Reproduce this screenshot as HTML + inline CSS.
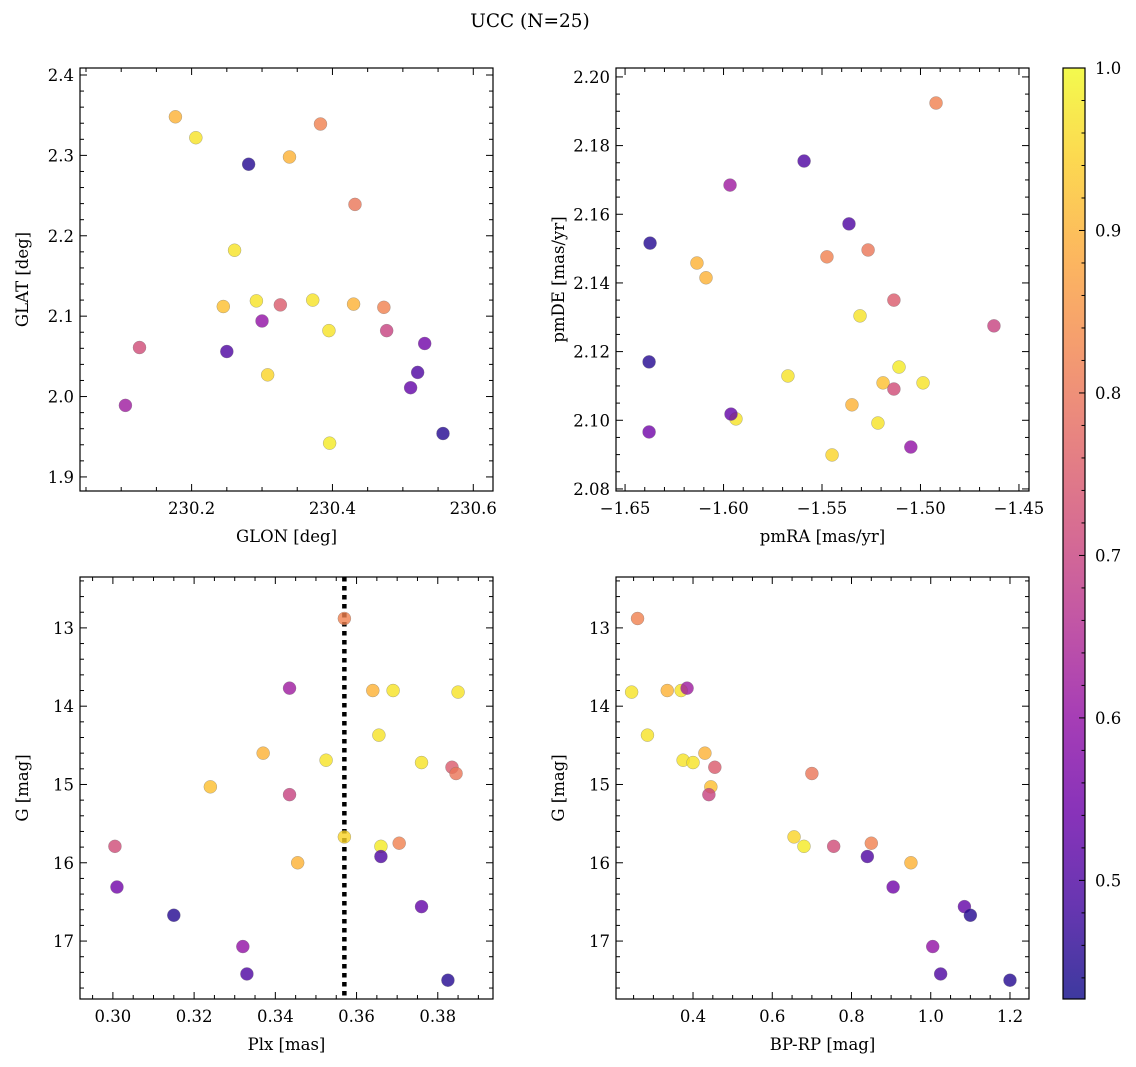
<!DOCTYPE html>
<html><head><meta charset="utf-8">
<style>
html,body{margin:0;padding:0;background:#fff;}
svg{display:block;font-family:"DejaVu Serif","Liberation Serif",serif;}
</style></head>
<body>
<svg id="fig" width="1136" height="1067" viewBox="0 0 1136 1067" xmlns="http://www.w3.org/2000/svg">
<text x="530" y="27" font-size="18.5" text-anchor="middle">UCC (N=25)</text>
</svg>
<script>
// Data (25 stars)
const prob = [0.82,0.97,0.90,0.97,0.62,0.97,0.97,0.90,0.97,0.75,0.92,0.70,0.80,0.95,0.98,0.72,0.82,0.50,0.90,0.55,0.53,0.45,0.60,0.50,0.45];
const bprp = [0.26,0.245,0.335,0.37,0.385,0.285,0.375,0.43,0.40,0.455,0.445,0.44,0.70,0.655,0.68,0.755,0.85,0.84,0.95,0.905,1.085,1.10,1.005,1.025,1.20];
const gmag = [12.88,13.82,13.80,13.80,13.77,14.37,14.69,14.60,14.72,14.78,15.03,15.13,14.86,15.67,15.79,15.79,15.75,15.92,16.00,16.31,16.56,16.67,17.07,17.42,17.50];
const plx = [0.357,0.385,0.364,0.369,0.3435,0.3655,0.3525,0.337,0.376,0.3835,0.324,0.3435,0.3845,0.357,0.366,0.3005,0.3705,0.366,0.3455,0.301,0.376,0.315,0.332,0.333,0.3825];
const glon = [230.383,230.206,230.177,230.261,230.106,230.292,230.372,230.339,230.395,230.326,230.245,230.477,230.432,230.308,230.396,230.126,230.473,230.250,230.430,230.531,230.511,230.281,230.300,230.521,230.557];
const glat = [2.339,2.322,2.348,2.182,1.989,2.119,2.120,2.298,2.082,2.114,2.112,2.082,2.239,2.027,1.942,2.061,2.111,2.056,2.115,2.066,2.011,2.289,2.094,2.030,1.954];
const pmra = [-1.4921,-1.5307,-1.6135,-1.5673,-1.5967,-1.4987,-1.5937,-1.6089,-1.5216,-1.5135,-1.5190,-1.4627,-1.5266,-1.5449,-1.5109,-1.5135,-1.5475,-1.5591,-1.5348,-1.6378,-1.5962,-1.6373,-1.5049,-1.5363,-1.6378];
const pmde = [2.1924,2.1304,2.1458,2.1129,2.1685,2.1109,2.1004,2.1415,2.0992,2.1350,2.1109,2.1275,2.1496,2.0899,2.1155,2.1091,2.1476,2.1755,2.1045,2.0966,2.1018,2.1516,2.0922,2.1572,2.1170];
const plxLine = 0.357;
const cbTicks = [0.5,0.6,0.7,0.8,0.9,1.0];
const cMin = 0.427, cMax = 1.0;

const NS = "http://www.w3.org/2000/svg";
const svg = document.getElementById('fig');
const FS = 16.5;
const plasma = ["#0d0887","#41049d","#6a00a8","#8f0da4","#b12a90","#cc4778","#e16462","#f2844b","#fca636","#fcce25","#f0f921"];
function hex(h){return [1,3,5].map(i=>parseInt(h.substr(i,2),16));}
function cmap(v){
  let t=(v-cMin)/(cMax-cMin); t=Math.max(0,Math.min(1,t));
  const f=t*10, i=Math.min(9,Math.floor(f)), r=f-i;
  const a=hex(plasma[i]), b=hex(plasma[i+1]);
  return "rgb("+a.map((c,k)=>Math.round(c+(b[k]-c)*r)).join(",")+")";
}
function mk(tag, attrs, parent){
  const e=document.createElementNS(NS,tag);
  for(const k in attrs) e.setAttribute(k,attrs[k]);
  (parent||svg).appendChild(e); return e;
}
function fmt(v,d){const s=v.toFixed(d); return s.replace('-','\u2212');}

function panel(name, box, xd, yd, xmaj, xmin, ymaj, ymin, xdec, ydec, xlab, ylab, xs, ys, invertY){
  const [L,T,R,B]=box;
  const g=mk('g',{});
  
  
  const X=v=>L+(v-xd[0])/(xd[1]-xd[0])*(R-L);
  const Y=invertY? (v=>T+(v-yd[0])/(yd[1]-yd[0])*(B-T)) : (v=>B-(v-yd[0])/(yd[1]-yd[0])*(B-T));
  const eps=1e-9;
  const tg=mk('g',{stroke:'#000','stroke-width':1},g);
  
  
  for(let v=Math.ceil(xd[0]/xmin-eps)*xmin; v<=xd[1]+eps; v+=xmin){
    const isMaj=Math.abs(v/xmaj-Math.round(v/xmaj))<1e-6; const len=isMaj?7:4; const x=X(v);
    mk('line',{x1:x,x2:x,y1:B,y2:B-len},tg); mk('line',{x1:x,x2:x,y1:T,y2:T+len},tg);
    if(isMaj){const t=mk('text',{x:x,y:B+23,'font-size':FS,'text-anchor':'middle',stroke:'none'},g); t.textContent=fmt(v,xdec);
       }
  }
  for(let v=Math.ceil(Math.min(...yd)/ymin-eps)*ymin; v<=Math.max(...yd)+eps; v+=ymin){
    const isMaj=Math.abs(v/ymaj-Math.round(v/ymaj))<1e-6; const len=isMaj?7:4; const y=Y(v);
    mk('line',{x1:L,x2:L+len,y1:y,y2:y},tg); mk('line',{x1:R,x2:R-len,y1:y,y2:y},tg);
    if(isMaj){const t=mk('text',{x:L-6,y:y+6,'font-size':FS,'text-anchor':'end',stroke:'none'},g); t.textContent=fmt(v,ydec);
       }
  }
  const xl=mk('text',{x:(L+R)/2,y:B+51,'font-size':FS,'text-anchor':'middle'},g); xl.textContent=xlab;
   
  const yl=mk('text',{x:0,y:0,'font-size':FS,'text-anchor':'middle',transform:`translate(${L-52},${(T+B)/2}) rotate(-90)`},g); yl.textContent=ylab;
   
  return {g,X,Y,L,T,R,B};
}
function points(p, xs, ys, label){
  const pg=mk('g',{},p.g);
  
  
  for(let i=0;i<xs.length;i++){
    const c=mk('circle',{cx:p.X(xs[i]),cy:p.Y(ys[i]),r:6.5,fill:cmap(prob[i]),'fill-opacity':0.8,stroke:'#777','stroke-width':0.5,'stroke-opacity':0.6},pg);
    
    
  }
}
function frame(p){
  const f=mk('rect',{x:p.L,y:p.T,width:p.R-p.L,height:p.B-p.T,fill:'none',stroke:'#000','stroke-width':1.2},p.g);
   
}

const p1=panel('glon-glat-panel',[80,68,493,491],[230.0415,230.628],[1.8825,2.4087],0.2,0.05,0.1,0.02,1,1,'GLON [deg]','GLAT [deg]');
points(p1,glon,glat,'glon-glat'); frame(p1);
const p2=panel('pm-panel',[616,68,1029,491],[-1.6546,-1.4449],[2.0794,2.2026],0.05,0.01,0.02,0.005,2,2,'pmRA [mas/yr]','pmDE [mas/yr]');
points(p2,pmra,pmde,'pm'); frame(p2);
const p3=panel('plx-g-panel',[80,577,493,999],[0.2919,0.3936],[12.35,17.74],0.02,0.005,1,0.2,2,0,'Plx [mas]','G [mag]',null,null,true);
const dl=mk('line',{x1:p3.X(plxLine),x2:p3.X(plxLine),y1:p3.T,y2:p3.B,stroke:'#000','stroke-width':4.5,'stroke-dasharray':'4.5 4.5'},p3.g);
 
points(p3,plx,gmag,'plx-g'); frame(p3);
const p4=panel('cmd-panel',[616,577,1029,999],[0.2056,1.248],[12.35,17.74],0.2,0.05,1,0.2,1,0,'BP-RP [mag]','G [mag]',null,null,true);
points(p4,bprp,gmag,'cmd'); frame(p4);

// colorbar
const cb=mk('g',{});


const CL=1063,CR=1085,CT=68,CB=999;
const defs=mk('defs',{},cb);
const lg=mk('linearGradient',{id:'cbg',x1:0,y1:1,x2:0,y2:0},defs);
for(let k=0;k<=20;k++){const v=cMin+(cMax-cMin)*k/20; mk('stop',{offset:k/20,'stop-color':cmap(v),'stop-opacity':0.8},lg);}
mk('rect',{x:CL,y:CT,width:CR-CL,height:CB-CT,fill:'url(#cbg)'},cb);
const CY=v=>CB-(v-cMin)/(cMax-cMin)*(CB-CT);
for(let v=0.44; v<=1.0001; v+=0.02){
  const isMaj=Math.abs(v*10-Math.round(v*10))<1e-6; const y=CY(v);
  mk('line',{x1:CR,x2:CR-(isMaj?6:3.5),y1:y,y2:y,stroke:'#000','stroke-width':1},cb);
}
cbTicks.forEach(v=>{const t=mk('text',{x:CR+10,y:CY(v)+6,'font-size':FS},cb); t.textContent=v.toFixed(1);
   });
mk('rect',{x:CL,y:CT,width:CR-CL,height:CB-CT,fill:'none',stroke:'#000','stroke-width':1.2},cb);
</script>
</body></html>
